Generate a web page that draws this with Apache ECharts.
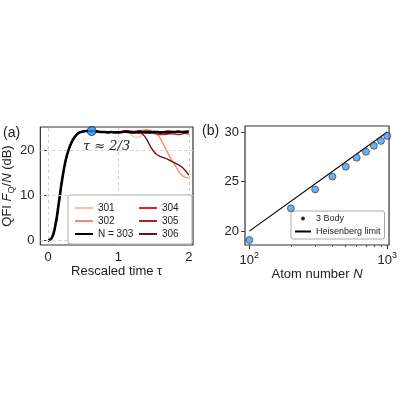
<!DOCTYPE html>
<html><head><meta charset="utf-8">
<script src="https://cdn.jsdelivr.net/npm/echarts@6/dist/echarts.min.js"></script>
<style>html,body{margin:0;background:#fff}#chart{width:400px;height:400px}</style>
</head><body><div id="chart"></div>
<script>
// panel (a): QFI vs rescaled time
const tau = [0,0.05,0.1,0.15,0.2,0.25,0.3,0.35,0.4,0.45,0.5,0.55,0.6,0.65,
  0.7,0.75,0.8,0.85,0.9,0.95,1,1.05,1.1,1.15,1.2,1.25,1.3,1.35,1.4,1.45,1.5,1.55,1.6,1.65,1.7,1.75,1.8,1.85,1.9,1.95,2];
const rise = [0,0.4,3.0,8.0,13.5,17.8,20.5,22.3,23.4,24.0,24.2,24.3,24.3,24.3];
const tail303 = [24.2,24.1,24.1,24.0,24.1,24.0,24.0,24.1,24.2,24.1,24.0,24.1,24.2,24.1,24.0,24.0,24.1,24.1,24.0,24.0,24.0,24.1,24.1,24.2,24.1,24.1,24.2];
const tail301 = [24.2,24.1,24.1,24.0,24.1,24.0,24.0,24.1,24.0,23.8,23.2,22.9,23.0,23.6,24.0,24.2,24.3,24.2,24.1,24.0,24.0,24.1,24.1,24.0,24.0,24.1,24.0];
const tail302 = [24.2,24.1,24.1,24.0,24.1,24.0,24.1,24.2,24.3,24.2,24.2,24.3,24.4,24.5,24.5,24.3,24.0,23.6,22.5,21.0,19.5,18.0,16.8,15.5,14.5,14.0,13.8];
const tail304 = [24.2,24.1,24.1,24.0,24.1,24.0,24.0,24.2,24.4,24.3,24.0,23.8,23.9,24.2,24.5,24.4,24.1,23.9,23.9,24.2,24.4,24.3,24.0,23.9,24.1,24.3,24.3];
const tail305 = [24.2,24.1,24.1,24.0,24.1,24.0,24.0,24.1,24.2,24.3,24.2,24.0,23.8,23.9,24.1,24.0,23.8,23.6,23.5,23.5,23.6,23.7,23.6,23.5,23.6,23.8,23.6];
const tail306 = [24.2,24.1,24.1,24.0,24.1,24.0,24.0,24.1,24.2,24.2,24.2,24.1,24.0,23.5,22.5,21.0,19.8,19.0,18.6,18.3,18.0,17.6,17.2,16.8,16.3,15.5,14.5];
const marker = [0.62, 24.3];

// panel (b): scaling with atom number
const atomN = [100,200,300,400,500,600,700,800,900,1000];
const body3 = [19.1,22.3,24.2,25.5,26.5,27.4,28.0,28.6,29.1,29.6];
const heisN = [100,1000];
const heisDb = [20,30];

const zip = (xs, ys) => xs.map((x, i) => [x, ys[i]]);
const full = t => zip(tau, rise.concat(t));

const font = 'Liberation Sans';
const ax = {color:'#222', fontSize:13, fontFamily:font};
const line = (name, tail, color, w, idx) => ({
  name, type:'line', data:full(tail), smooth:true, symbol:'none',
  lineStyle:{color, width:w}, itemStyle:{color}, z: idx
});

const chart = echarts.init(document.getElementById('chart'));
chart.setOption({
  animation:false,
  grid:[
    {left:40, top:127, width:153, height:118, show:true, borderColor:'#333', borderWidth:1.2},
    {left:245, top:126, width:148, height:119, show:true, borderColor:'#333', borderWidth:1.2}
  ],
  xAxis:[
    {gridIndex:0, type:'value', min:-0.11, max:2.06,
     axisLine:{show:false}, axisTick:{length:4, customValues:[0,1,2], lineStyle:{color:'#333'}},
     axisLabel:{...ax, customValues:[0,1,2], margin:6},
     splitLine:{show:false},
     name:'Rescaled time τ', nameLocation:'middle', nameGap:20, nameTextStyle:ax},
    {gridIndex:1, type:'log', min:93, max:1030, logBase:10,
     axisLine:{show:false}, axisTick:{length:4, customValues:[100,1000], lineStyle:{color:'#333'}},
     minorTick:{show:true, splitNumber:9, length:2},
     axisLabel:{...ax, customValues:[100,1000], margin:6,
       formatter:v => '10{s|' + Math.round(Math.log10(v)) + '}',
       rich:{s:{fontSize:9, verticalAlign:'top', padding:[0,0,10,0], fontFamily:font}}},
     splitLine:{show:false},
     name:'Atom number {i|N}', nameLocation:'middle', nameGap:22,
     nameTextStyle:{...ax, rich:{i:{fontSize:13, fontStyle:'italic', fontFamily:font}}}}
  ],
  yAxis:[
    {gridIndex:0, type:'value', min:-1.1, max:25.2,
     axisLine:{show:false}, axisTick:{length:4, customValues:[0,10,20], lineStyle:{color:'#333'}},
     axisLabel:{...ax, customValues:[0,10,20], margin:6},
     splitLine:{show:false},
     name:'QFI {i|F}{q|Q}/{i|N} (dB)', nameLocation:'middle', nameGap:22,
     nameTextStyle:{...ax, rich:{
       i:{fontSize:13, fontStyle:'italic', fontFamily:font},
       q:{fontSize:9, verticalAlign:'bottom', padding:[8,0,0,0], fontFamily:font}}}},
    {gridIndex:1, type:'value', min:18.6, max:30.6,
     axisLine:{show:false}, axisTick:{length:4, customValues:[20,25,30], lineStyle:{color:'#333'}},
     axisLabel:{...ax, customValues:[20,25,30], margin:6},
     splitLine:{show:false}}
  ],
  legend:[
    {data:['301','302','N = 303'], orient:'vertical', left:70, top:198, itemGap:3, z:60,
     itemWidth:18, itemHeight:2, textStyle:{fontSize:10, fontFamily:font, color:'#222'}, icon:'rect'},
    {data:['304','305','306'], orient:'vertical', left:134, top:198, itemGap:3, z:60,
     itemWidth:18, itemHeight:2, textStyle:{fontSize:10, fontFamily:font, color:'#222'}, icon:'rect'},
    {data:[{name:'3 Body', icon:'circle'}, {name:'Heisenberg limit', icon:'rect'}],
     orient:'vertical', left:291, top:211, itemGap:4, itemWidth:16, itemHeight:2,
     backgroundColor:'#fff', borderColor:'#aaa', borderWidth:1, borderRadius:2, padding:[3,4],
     textStyle:{fontSize:9, fontFamily:font, color:'#222'}}
  ],
  graphic:[
    {type:'rect', shape:{x:68, y:195, width:124, height:49, r:2}, style:{fill:'#fff', stroke:'#aaa'}, z:50},
    {type:'text', left:3, top:126, style:{text:'(a)', font:'14px '+font, fill:'#222'}},
    {type:'text', left:202, top:124, style:{text:'(b)', font:'14px '+font, fill:'#222'}},
    {type:'text', left:83, top:140, style:{text:'τ ≈ 2/3', font:'italic 13px DejaVu Serif', fill:'#222'}, z:60}
  ],
  series:[
    {type:'line', xAxisIndex:0, yAxisIndex:0, data:[], markLine:{silent:true, symbol:'none',
      lineStyle:{type:[3,3], color:'#cfcfcf', width:1}, label:{show:false},
      data:[{xAxis:0},{xAxis:1},{xAxis:2},{yAxis:0},{yAxis:10},{yAxis:20}]}, z:1},
    line('301', tail301, '#fcc0a8', 1.3, 3),
    line('302', tail302, '#f4876e', 1.3, 3),
    line('304', tail304, '#e8231f', 1.3, 3),
    line('305', tail305, '#b51d27', 1.3, 3),
    line('306', tail306, '#6b0d1a', 1.3, 3),
    line('N = 303', tail303, '#000', 2.6, 4),
    {type:'scatter', data:[marker], symbolSize:9, itemStyle:{color:'#1e90ff', borderColor:'#000', borderWidth:0.8}, z:10},
    {name:'3 Body', type:'scatter', xAxisIndex:1, yAxisIndex:1, data:zip(atomN, body3), symbolSize:7,
     itemStyle:{color:'#4a9be8', borderColor:'#000', borderWidth:0.6}, z:5},
    {name:'Heisenberg limit', type:'line', xAxisIndex:1, yAxisIndex:1, data:zip(heisN, heisDb),
     symbol:'none', lineStyle:{color:'#000', width:1.2}, itemStyle:{color:'#000'}}
  ]
});
</script></body></html>
